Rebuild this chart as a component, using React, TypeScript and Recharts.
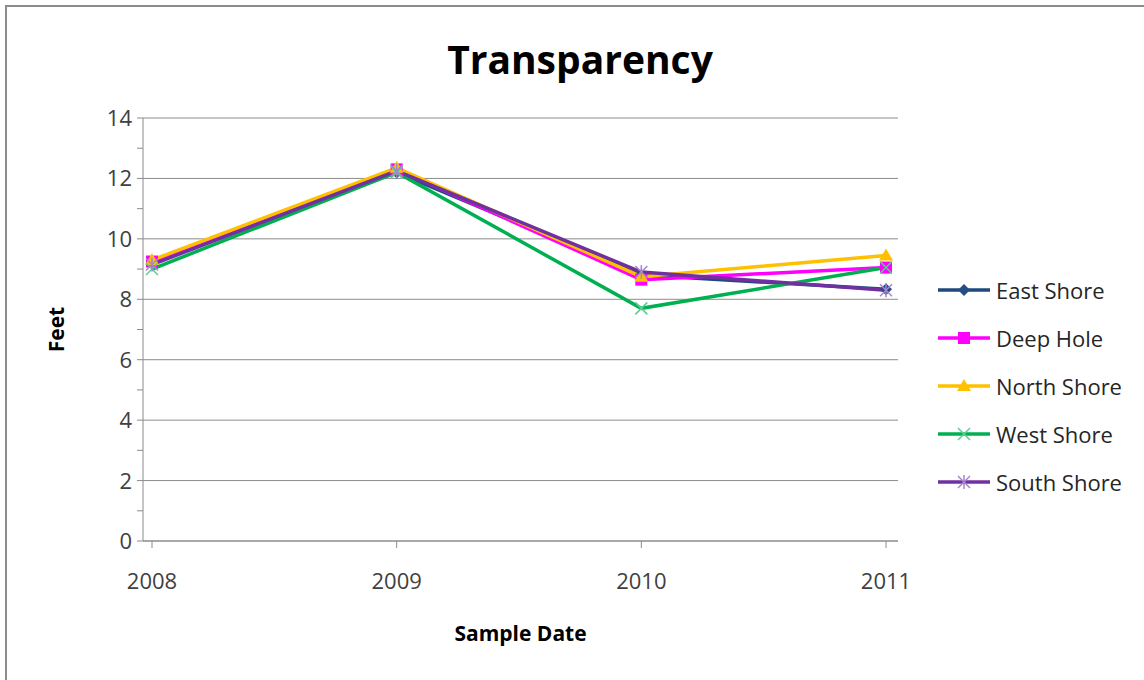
import { CartesianGrid, Label, Line, LineChart, XAxis, YAxis } from "recharts";

const years = ["2008", "2009", "2010", "2011"];
const eastShore = [9.2, 12.2, 8.8, 8.33];
const deepHole = [9.25, 12.3, 8.65, 9.05];
const northShore = [9.3, 12.35, 8.75, 9.45];
const westShore = [9.0, 12.2, 7.7, 9.05];
const southShore = [9.15, 12.25, 8.9, 8.3];
const yTicks = [0, 1, 2, 3, 4, 5, 6, 7, 8, 9, 10, 11, 12, 13, 14];
const gridValues = [0, 2, 4, 6, 8, 10, 12, 14];

const FONT = "'Open Sans', 'Noto Sans', sans-serif";

const series = [
    { key: "east", name: "East Shore", color: "#1F497D", marker: "#254E84", shape: "diamond" },
    { key: "deep", name: "Deep Hole", color: "#FF00FF", marker: "#FF00FF", shape: "square" },
    { key: "north", name: "North Shore", color: "#FFC000", marker: "#FFC000", shape: "triangle" },
    { key: "west", name: "West Shore", color: "#00B050", marker: "#5FCB95", shape: "x" },
    { key: "south", name: "South Shore", color: "#7030A0", marker: "#A585CC", shape: "star" },
];

const data = years.map((year, i) => ({
    year,
    east: eastShore[i],
    deep: deepHole[i],
    north: northShore[i],
    west: westShore[i],
    south: southShore[i],
}));

const Marker = ({ cx, cy, shape, color }: any) => {
    if (cx == null || cy == null) return null;
    if (shape === "diamond")
        return <polygon points={`${cx},${cy - 6} ${cx + 6},${cy} ${cx},${cy + 6} ${cx - 6},${cy}`} fill={color} />;
    if (shape === "square")
        return <rect x={cx - 6} y={cy - 6} width={12} height={12} fill={color} />;
    if (shape === "triangle")
        return <polygon points={`${cx},${cy - 7} ${cx + 7},${cy + 5} ${cx - 7},${cy + 5}`} fill={color} />;
    if (shape === "x")
        return (
            <g stroke={color} strokeWidth={1.5}>
                <line x1={cx - 6} y1={cy - 6} x2={cx + 6} y2={cy + 6} />
                <line x1={cx - 6} y1={cy + 6} x2={cx + 6} y2={cy - 6} />
            </g>
        );
    return (
        <g stroke={color} strokeWidth={1.5}>
            <line x1={cx - 6} y1={cy - 6} x2={cx + 6} y2={cy + 6} />
            <line x1={cx - 6} y1={cy + 6} x2={cx + 6} y2={cy - 6} />
            <line x1={cx} y1={cy - 7} x2={cx} y2={cy + 7} />
        </g>
    );
};

const YTick = ({ x, y, payload }: any) => {
    const major = payload.value % 2 === 0;
    return (
        <g>
            <line x1={x + 2} y1={y} x2={x + 8} y2={y} stroke="#8c8c8c" />
            {major && (
                <text x={x - 3} y={y} dy={8} textAnchor="end" fontSize={22} fill="#404040" fontFamily={FONT}>
                    {payload.value}
                </text>
            )}
        </g>
    );
};

export default function App() {
    return (
        <div style={{ position: "absolute", left: 0, top: 0, width: 1144, height: 680, overflow: "hidden", background: "#fff" }}>
            <div style={{ position: "absolute", left: 5, top: 5, width: 1200, height: 720, border: "2px solid #8c8c8c" }} />
            <div
                style={{
                    position: "absolute",
                    left: 0,
                    top: 32,
                    width: 1160,
                    textAlign: "center",
                    fontFamily: FONT,
                    fontWeight: 700,
                    fontSize: 39,
                    color: "#000",
                }}
            >
                Transparency
            </div>
            <LineChart
                width={1144}
                height={680}
                data={data}
                margin={{ top: 118, left: 83, right: 246, bottom: 79 }}
                style={{ position: "absolute", left: 0, top: 0 }}
            >
                <CartesianGrid horizontal vertical={false} horizontalValues={gridValues} stroke="#8c8c8c" strokeWidth={1} />
                <XAxis
                    dataKey="year"
                    height={60}
                    padding={{ left: 9, right: 12 }}
                    axisLine={{ stroke: "#8c8c8c" }}
                    tickLine={{ stroke: "#8c8c8c" }}
                    tickSize={7}
                    tick={{ fontSize: 22, fill: "#404040", fontFamily: FONT }}
                    tickMargin={25}
                >
                    <Label
                        value="Sample Date"
                        position="bottom"
                        offset={25}
                        style={{ fontSize: 21, fontWeight: 700, fill: "#000", fontFamily: FONT }}
                    />
                </XAxis>
                <YAxis
                    width={60}
                    domain={[0, 14]}
                    ticks={yTicks}
                    interval={0}
                    tick={<YTick />}
                    tickLine={false}
                    axisLine={{ stroke: "#8c8c8c" }}
                >
                    <Label
                        value="Feet"
                        angle={-90}
                        position="left"
                        offset={26}
                        style={{ fontSize: 21, fontWeight: 700, fill: "#000", fontFamily: FONT, textAnchor: "middle" }}
                    />
                </YAxis>
                {series.map((s) => (
                    <Line
                        key={s.key}
                        dataKey={s.key}
                        name={s.name}
                        stroke={s.color}
                        strokeWidth={3.5}
                        isAnimationActive={false}
                        dot={(p: any) => <Marker key={`${s.key}-${p.index}`} cx={p.cx} cy={p.cy} shape={s.shape} color={s.marker} />}
                        activeDot={false}
                    />
                ))}
            </LineChart>
            <div style={{ position: "absolute", left: 936, top: 266, fontFamily: FONT, fontSize: 22, color: "#262626" }}>
                {series.map((s) => (
                    <div key={s.key} style={{ display: "flex", alignItems: "center", height: 48 }}>
                        <svg width={56} height={20}>
                            <line x1={2} y1={10} x2={54} y2={10} stroke={s.color} strokeWidth={3.5} />
                            <Marker cx={28} cy={10} shape={s.shape} color={s.marker} />
                        </svg>
                        <span style={{ marginLeft: 4 }}>{s.name}</span>
                    </div>
                ))}
            </div>
        </div>
    );
}
